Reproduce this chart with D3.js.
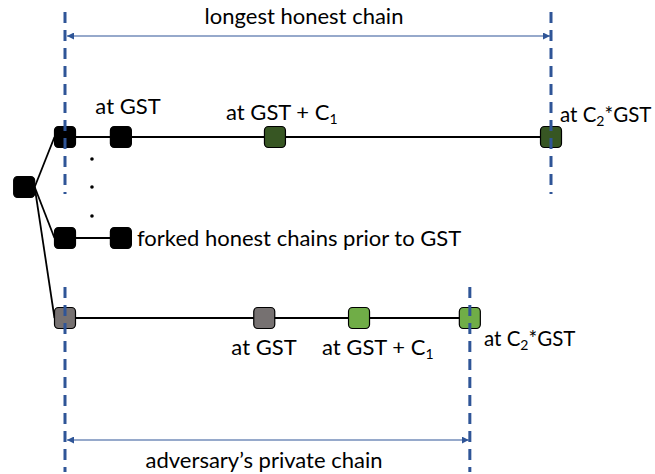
<!DOCTYPE html>
<html lang="en">
<head>
    <meta charset="UTF-8">
    <title>Honest vs adversary chains</title>
    <script src="https://d3js.org/d3.v7.min.js"></script>
    <style>
        body { margin: 0; background: #fff; }
        svg { display: block; }
        .lbl { font-family: Lato, "Open Sans", sans-serif; font-size: 22px; fill: #000; }
        .lbl.small { font-size: 20.5px; }
        .guide { stroke: #2f5597; stroke-width: 3; stroke-dasharray: 11 7; }
        .span { stroke: #2f5597; stroke-width: 1.2; fill: none; }
        .link { stroke: #000; stroke-width: 1.8; }
        .block { stroke: #000; stroke-width: 1.2; }
    </style>
</head>
<body>
<svg id="chart" width="655" height="474"></svg>
<script>
    // time positions (0 = first block after fork, 100 = C2*GST on honest chain)
    const rows = ["honest", "root", "forked", "adversary"];
    const rowY = [137, 187, 238, 318];

    const honestBlocks = [0, 11.5, 43.2, 100];
    const honestColors = ["#000000", "#000000", "#375623", "#375623"];
    const forkedBlocks = [0, 11.5];
    const forkedColors = ["#000000", "#000000"];
    const advBlocks = [0, 41, 60.5, 83.3];
    const advColors = ["#767171", "#767171", "#70ad47", "#70ad47"];
    const rootPos = -8.4;
    const dotsPos = 5.55;
    const dotsY = [159, 187, 216];

    const guides = [
        {t: 0, y0: 12, y1: 194},
        {t: 100, y0: 12, y1: 194},
        {t: 0, y0: 287, y1: 472},
        {t: 83.3, y0: 287, y1: 472}
    ];

    const svg = d3.select("#chart");
    const x = d3.scaleLinear().domain([0, 100]).range([65, 551]);
    const y = d3.scaleOrdinal().domain(rows).range(rowY);
    const size = 21;

    // arrow marker
    const defs = svg.append("defs");
    defs.append("marker").attr("id", "arr").attr("viewBox", "0 0 10 10")
        .attr("refX", 10).attr("refY", 5).attr("markerWidth", 7).attr("markerHeight", 7)
        .attr("markerUnits", "userSpaceOnUse")
        .attr("orient", "auto-start-reverse")
        .append("path").attr("d", "M0,0L10,5L0,10Z").attr("fill", "#2f5597");

    // links between blocks
    function chainLinks(blocks, row) {
        svg.append("line").attr("class", "link")
            .attr("x1", x(blocks[0])).attr("x2", x(blocks[blocks.length - 1]))
            .attr("y1", y(row)).attr("y2", y(row));
    }
    chainLinks(honestBlocks, "honest");
    chainLinks(forkedBlocks, "forked");
    chainLinks(advBlocks, "adversary");

    // fork links from the root block
    ["honest", "forked", "adversary"].forEach(r => {
        svg.append("line").attr("class", "link")
            .attr("x1", x(rootPos) + size / 2).attr("y1", y("root"))
            .attr("x2", x(0) - size / 2).attr("y2", y(r));
    });

    function drawBlocks(blocks, colors, row) {
        svg.append("g").selectAll("rect").data(blocks).enter().append("rect")
            .attr("class", "block")
            .attr("x", d => x(d) - size / 2).attr("y", y(row) - size / 2)
            .attr("width", size).attr("height", size).attr("rx", 4)
            .attr("fill", (d, i) => colors[i]);
    }
    drawBlocks([rootPos], ["#000000"], "root");
    drawBlocks(honestBlocks, honestColors, "honest");
    drawBlocks(forkedBlocks, forkedColors, "forked");
    drawBlocks(advBlocks, advColors, "adversary");

    // dots between honest and forked chains
    svg.append("g").selectAll("circle").data(dotsY).enter().append("circle")
        .attr("cx", x(dotsPos)).attr("cy", d => d).attr("r", 1.8).attr("fill", "#000");

    // dashed guides
    svg.append("g").selectAll("line").data(guides).enter().append("line")
        .attr("class", "guide")
        .attr("x1", d => x(d.t)).attr("x2", d => x(d.t))
        .attr("y1", d => d.y0).attr("y2", d => d.y1);

    // span arrows
    function span(t0, t1, yy) {
        svg.append("line").attr("class", "span")
            .attr("x1", x(t0) + 2).attr("x2", x(t1) - 1)
            .attr("y1", yy).attr("y2", yy)
            .attr("marker-start", "url(#arr)").attr("marker-end", "url(#arr)");
    }
    span(0, 100, 36);
    span(0, 83.3, 440);

    // labels
    function label(txt, sub, tail, px, py, anchor, cls) {
        const t = svg.append("text").attr("class", "lbl" + (cls ? " " + cls : ""))
            .attr("x", px).attr("y", py).attr("text-anchor", anchor || "start");
        t.append("tspan").text(txt);
        if (sub) {
            t.append("tspan").attr("font-size", 14).attr("dy", 4).text(sub);
            if (tail) t.append("tspan").attr("dy", -4).text(tail);
        }
    }
    label("longest honest chain", null, null, 304, 24, "middle");
    label("adversary\u2019s private chain", null, null, 264, 468, "middle");
    label("at GST", null, null, 128, 114, "middle");
    label("at GST + C", "1", null, 226, 120, "start");
    label("at C", "2", "*GST", 560, 122, "start", "small");
    label("forked honest chains prior to GST", null, null, 137, 246, "start");
    label("at GST", null, null, 264, 355, "middle");
    label("at GST + C", "1", null, 322, 355, "start");
    label("at C", "2", "*GST", 484, 346, "start", "small");
</script>
</body>
</html>
